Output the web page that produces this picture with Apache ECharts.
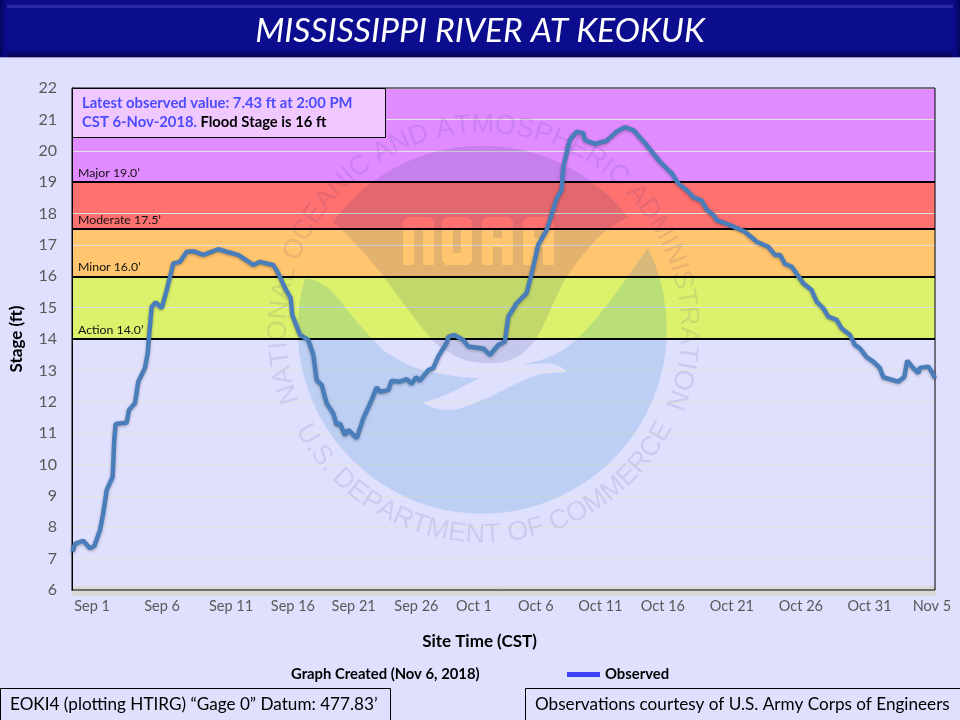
<!DOCTYPE html>
<html>
<head>
    <meta charset="utf-8">
    <title>Mississippi River at Keokuk</title>
    <script src="https://cdn.jsdelivr.net/npm/echarts@6/dist/echarts.min.js"></script>
    <style type="text/css">
        html, body {
            margin: 0;
            background: #dfdffe;
        }

        #main {
            width: 960px;
            height: 720px;
        }
    </style>
</head>
<body>
<div id="main"></div>
<script>
    // x unit: days from the left edge of the plot
    var obsDays = [0.05, 0.23, 0.87, 1.39, 1.73, 2.17, 2.42, 2.69, 3.15, 3.27, 3.38, 3.97, 4.23, 4.41, 4.88, 5.13,
        5.65, 5.86, 5.96, 6.17, 6.48, 6.94, 7.33, 7.72, 7.84, 8.36, 8.88, 9.39, 10.16, 11.32, 11.97, 12.87,
        14.03, 14.55, 15.58, 15.97, 16.49, 16.93, 17.05, 17.65, 18.29, 18.68, 18.94, 19.33, 19.71, 20.22, 20.49,
        20.74, 21.13, 21.39, 22.04, 22.55, 23.20, 23.58, 23.84, 24.48, 24.74, 25.39, 25.91, 26.29, 26.63, 26.93,
        27.58, 27.96, 28.35, 29.0, 29.13, 29.59, 30.29, 30.67, 31.83, 32.35, 33.0, 33.51, 33.77, 34.42, 35.19,
        35.58, 36.09, 36.74, 37.52, 37.90, 38.03, 38.54, 39.06, 39.57, 39.71, 40.48, 41.39, 42.16, 42.80, 43.45,
        44.48, 45.51, 46.42, 46.93, 47.70, 48.09, 48.74, 49.12, 49.64, 49.9, 50.93, 52.09, 53.0, 53.89, 54.41,
        54.80, 55.19, 55.70, 56.60, 57.25, 57.64, 58.15, 58.54, 59.19, 59.57, 60.22, 60.60, 60.99, 61.51, 62.02,
        62.54, 62.80, 63.96, 64.43, 64.65, 65.12, 65.51, 65.63, 66.28, 66.54, 66.80];
    var obsStage = [7.22, 7.47, 7.57, 7.33, 7.40, 7.91, 8.45, 9.19, 9.61, 10.78, 11.29, 11.32, 11.33, 11.74, 11.96, 12.64,
        13.08, 13.55, 14.07, 15.03, 15.17, 14.98, 15.56, 16.2, 16.41, 16.46, 16.78, 16.80, 16.68, 16.86, 16.78, 16.68,
        16.36, 16.46, 16.36, 16.09, 15.62, 15.30, 14.77, 14.13, 13.97, 13.49, 12.69, 12.53, 11.95, 11.63, 11.26,
        11.31, 10.94, 11.10, 10.84, 11.47, 12.06, 12.46, 12.32, 12.37, 12.67, 12.64, 12.72, 12.57, 12.78, 12.67,
        13.01, 13.07, 13.44, 13.88, 14.07, 14.13, 13.97, 13.76, 13.70, 13.49, 13.81, 13.92, 14.71, 15.14, 15.46,
        16.09, 17.0, 17.47, 18.48, 18.75, 19.49, 20.34, 20.61, 20.56, 20.34, 20.22, 20.32, 20.61, 20.75, 20.66,
        20.18, 19.65, 19.28, 18.96, 18.70, 18.52, 18.41, 18.13, 17.95, 17.79, 17.63, 17.42, 17.10, 16.94, 16.68,
        16.68, 16.39, 16.31, 15.78, 15.56, 15.19, 14.98, 14.71, 14.61, 14.34, 14.13, 13.81, 13.70, 13.42, 13.28,
        13.07, 12.78, 12.64, 12.80, 13.31, 13.07, 12.91, 13.08, 13.12, 12.96, 12.75];

    var xTickDays = [1.55, 6.97, 12.31, 17.1, 21.8, 26.66, 31.11, 35.9, 40.9, 45.74, 51.08, 56.42, 61.73, 66.56];
    var xTickLabels = ['Sep 1', 'Sep 6', 'Sep 11', 'Sep 16', 'Sep 21', 'Sep 26', 'Oct 1', 'Oct 6', 'Oct 11',
        'Oct 16', 'Oct 21', 'Oct 26', 'Oct 31', 'Nov 5'];

    var stageNames = ['Action', 'Minor', 'Moderate', 'Major'];
    var stageLevels = [14, 16, 17.5, 19];
    var stageTops = [16, 17.5, 19, 22];
    var stageColors = ['#dcf16c', '#ffc56f', '#ff7070', '#e08bff'];

    var uiFont = 'Lato, "Noto Sans", sans-serif';
    var ringFont = '27px "Liberation Sans", Arial, sans-serif';
    var ringCenter = [483.5, 330];
    var ringRadius = 205;

    // letters of the seal, spaced by their real widths
    function ringLetters(text, spanDeg, bottom) {
        var ctx = document.createElement('canvas').getContext('2d');
        ctx.font = ringFont;
        var total = ctx.measureText(text).width;
        var run = 0;
        var out = [];
        for (var i = 0; i < text.length; i++) {
            var w = ctx.measureText(text[i]).width;
            var a = ((run + w / 2) / total - 0.5) * spanDeg * Math.PI / 180;
            run += w;
            out.push({
                type: 'text',
                z: 3,
                silent: true,
                x: ringCenter[0] + ringRadius * Math.sin(a),
                y: ringCenter[1] + (bottom ? 1 : -1) * ringRadius * Math.cos(a),
                rotation: bottom ? a : -a,
                style: {
                    text: text[i],
                    font: ringFont,
                    fill: 'rgba(50,50,125,0.11)',
                    align: 'center',
                    verticalAlign: 'middle'
                }
            });
        }
        return out;
    }

    var darkPath = 'M333 222 A184.5 184.5 0 0 1 628 217 C612 226 602 232 593 243 C580 258 572 268 563 283 ' +
        'C554 300 547 320 537 337 C530 349 520 356 510 360 C505 362 501 363 497 363 C482 363 469 363 457 357 ' +
        'C448 352 438 347 430 337 C420 326 412 315 403 303 C392 288 382 274 370 260 C358 246 346 233 333 222 Z ' +
        // NOAA letters are holes in the dark shape
        'M407 217 L403 221 L403 265 L414 265 L414 229 L423 229 L423 265 L434 265 L434 221 L430 217 Z ' +
        'M446 217 L442 221 L442 261 L446 265 L468 265 L472 261 L472 221 L468 217 Z M453 229 L461 229 L461 253 L453 253 Z ' +
        'M486 217 L482 221 L482 265 L493 265 L493 247 L502 247 L502 265 L513 265 L513 221 L509 217 Z M493 229 L502 229 L502 238 L493 238 Z ' +
        'M527 217 L523 221 L523 265 L534 265 L534 247 L543 247 L543 265 L554 265 L554 221 L550 217 Z M534 229 L543 229 L543 238 L534 238 Z';

    var bluePath = 'M305 278 A184.5 184.5 0 1 0 648 248 C635 265 618 292 603 310 C590 326 578 340 563 350 ' +
        'C550 358 535 362 522 365 C532 364 544 363 553 364 C559 365 564 369 567 372 C558 373 547 373 537 375 ' +
        'C525 379 514 385 503 390 C492 396 481 401 470 405 C462 408 455 410 447 410 C438 410 430 406 422 403 ' +
        'C432 400 441 397 450 393 C460 388 470 383 480 378 C469 378 458 377 447 375 C435 373 424 371 413 367 ' +
        'C403 362 393 357 383 350 C372 340 363 328 353 317 C345 307 336 294 327 287 C320 282 312 279 305 278 Z';

    // graphic component has no plain path type, so register the seal shapes
    echarts.graphic.registerShape('sealDark', echarts.graphic.extendPath(darkPath));
    echarts.graphic.registerShape('sealBlue', echarts.graphic.extendPath(bluePath));

    function bevel(x, y, w, h, from, to, vertical) {
        return {
            type: 'rect',
            z: 1,
            silent: true,
            shape: {x: x, y: y, width: w, height: h},
            style: {
                fill: new echarts.graphic.LinearGradient(0, 0, vertical ? 1 : 0, vertical ? 0 : 1, [
                    {offset: 0, color: from},
                    {offset: 1, color: to}
                ])
            }
        };
    }

    function box(x, y, w, h, fill, zz) {
        return {
            type: 'rect',
            z: zz,
            silent: true,
            shape: {x: x, y: y, width: w, height: h},
            style: {fill: fill, stroke: '#000', lineWidth: 1}
        };
    }

    function label(x, y, text, size, weight, color) {
        return {
            type: 'text',
            z: 8,
            silent: true,
            x: x,
            y: y,
            style: {
                text: text,
                fill: color || '#000',
                font: (weight || 'normal') + ' ' + size + 'px ' + uiFont,
                verticalAlign: 'middle'
            }
        };
    }

    var graphics = [
        // title banner
        {type: 'rect', z: 1, silent: true, shape: {x: 0, y: 0, width: 960, height: 57}, style: {fill: '#0c0c8e'}},
        bevel(0, 0, 960, 5, '#0b0b82', '#0c0c8e', false),
        {type: 'rect', z: 1, silent: true, shape: {x: 0, y: 5, width: 960, height: 3}, style: {fill: '#2a2aa6'}},
        bevel(0, 50, 960, 7, '#0c0c8e', '#06064a', false),
        bevel(0, 0, 7, 57, '#05055e', '#0c0c8e', true),
        bevel(953, 0, 7, 57, '#0c0c8e', '#05055e', true),
        {type: 'rect', z: 1, silent: true, shape: {x: 0, y: 57, width: 960, height: 1}, style: {fill: '#9a9ac8'}},
        // strip behind the x axis line
        {type: 'rect', z: 1, silent: true, shape: {x: 72, y: 586, width: 864, height: 10}, style: {fill: '#d8d8d8'}},
        // NOAA seal
        {type: 'sealBlue', z: 3, silent: true, style: {fill: 'rgba(0,123,193,0.15)'}},
        {type: 'sealDark', z: 3, silent: true, style: {fill: 'rgba(20,40,105,0.12)'}},
        // plot frame
        {type: 'rect', z: 4, silent: true, shape: {x: 72, y: 88, width: 863, height: 502},
            style: {fill: 'none', stroke: '#000', lineWidth: 1}},
        // latest value box
        box(72.5, 88.5, 313, 49, '#f0c8ff', 7),
        {
            type: 'text',
            z: 8,
            silent: true,
            x: 82,
            y: 103,
            style: {
                text: 'Latest observed value: 7.43 ft at 2:00 PM',
                fill: '#4c4cff',
                font: 'bold 14.8px ' + uiFont,
                verticalAlign: 'middle'
            }
        },
        {
            type: 'text',
            z: 8,
            silent: true,
            x: 82,
            y: 122,
            style: {
                text: '{a|CST 6-Nov-2018.} {b|Flood Stage is 16 ft}',
                verticalAlign: 'middle',
                rich: {
                    a: {fill: '#4c4cff', font: 'bold 14.8px ' + uiFont},
                    b: {fill: '#000', font: 'bold 14.8px ' + uiFont}
                }
            }
        },
        // footer
        label(291, 674, 'Graph Created (Nov 6, 2018)', 14.8, 'bold'),
        box(0.5, 688.5, 390, 32, '#dfdffe', 7),
        label(10, 704, 'EOKI4 (plotting HTIRG) \u201cGage 0\u201d Datum: 477.83\u2019', 17.15),
        box(525.5, 688.5, 435, 32, '#dfdffe', 7),
        label(535, 704, 'Observations courtesy of U.S. Army Corps of Engineers', 17.15)
    ].concat(
        ringLetters('NATIONAL OCEANIC AND ATMOSPHERIC ADMINISTRATION', 222, false),
        ringLetters('U.S. DEPARTMENT OF COMMERCE', 124, true)
    );

    var bandAreas = stageLevels.map(function (lo, i) {
        return [{yAxis: lo, itemStyle: {color: stageColors[i], opacity: 1}}, {yAxis: stageTops[i]}];
    });
    var stageLines = stageLevels.map(function (v, i) {
        return {
            yAxis: v,
            label: {formatter: stageNames[i] + ' ' + v.toFixed(1) + '\u2019'}
        };
    });

    var myChart = echarts.init(document.getElementById('main'));
    var option = {
        animation: false,
        backgroundColor: '#dfdffe',
        title: {
            text: 'MISSISSIPPI RIVER AT KEOKUK',
            left: 'center',
            top: 9,
            z: 10,
            textStyle: {color: '#fff', fontFamily: uiFont, fontStyle: 'italic', fontWeight: 'normal', fontSize: 33.8}
        },
        legend: {
            left: 562,
            top: 662,
            itemWidth: 33,
            itemHeight: 5,
            itemGap: 9,
            data: [{name: 'Observed', icon: 'rect', itemStyle: {color: '#4040ff'}}],
            textStyle: {color: '#000', fontFamily: uiFont, fontWeight: 'bold', fontSize: 14.8}
        },
        // outerBoundsMode none: the axis names must not shrink the plot
        grid: {left: 72, right: 25, top: 88, bottom: 130, outerBoundsMode: 'none'},
        xAxis: {
            type: 'value',
            min: 0,
            max: 66.8,
            name: 'Site Time (CST)',
            nameLocation: 'middle',
            nameGap: 43,
            nameTextStyle: {
                color: '#000',
                fontFamily: uiFont,
                fontWeight: 'bold',
                fontSize: 17,
                padding: [0, 48, 0, 0]
            },
            splitLine: {show: false},
            axisLine: {lineStyle: {color: '#000', width: 1}},
            axisTick: {show: false},
            axisLabel: {
                customValues: xTickDays,
                margin: 9,
                color: '#595959',
                fontFamily: uiFont,
                fontSize: 14.5,
                formatter: function (v) {
                    return xTickLabels[xTickDays.indexOf(v)];
                }
            }
        },
        yAxis: {
            type: 'value',
            min: 6,
            max: 22,
            interval: 1,
            z: 2,
            name: 'Stage (ft)',
            nameLocation: 'middle',
            nameGap: 47,
            nameTextStyle: {color: '#000', fontFamily: uiFont, fontWeight: 'bold', fontSize: 17},
            axisLine: {show: true, lineStyle: {color: '#000', width: 1}},
            axisTick: {show: false},
            splitLine: {lineStyle: {color: '#e4e2dc', width: 1}},
            axisLabel: {margin: 15, color: '#595959', fontFamily: uiFont, fontSize: 16}
        },
        series: [{
            name: 'Observed',
            type: 'line',
            z: 5,
            showSymbol: false,
            data: obsDays.map(function (d, i) {
                return [d, obsStage[i]];
            }),
            lineStyle: {
                color: '#4a7ebb',
                width: 4.5,
                shadowColor: 'rgba(0,0,0,0.3)',
                shadowBlur: 3,
                shadowOffsetY: 1
            },
            itemStyle: {color: '#4a7ebb'},
            markArea: {z: 1, silent: true, data: bandAreas},
            markLine: {
                z: 4,
                silent: true,
                symbol: 'none',
                lineStyle: {color: '#000', width: 2, type: 'solid'},
                label: {
                    position: 'insideStartTop',
                    distance: [6, 3],
                    color: '#111',
                    fontFamily: uiFont,
                    fontSize: 12.3
                },
                data: stageLines
            }
        }],
        graphic: {elements: graphics}
    };
    myChart.setOption(option);
</script>
</body>
</html>
